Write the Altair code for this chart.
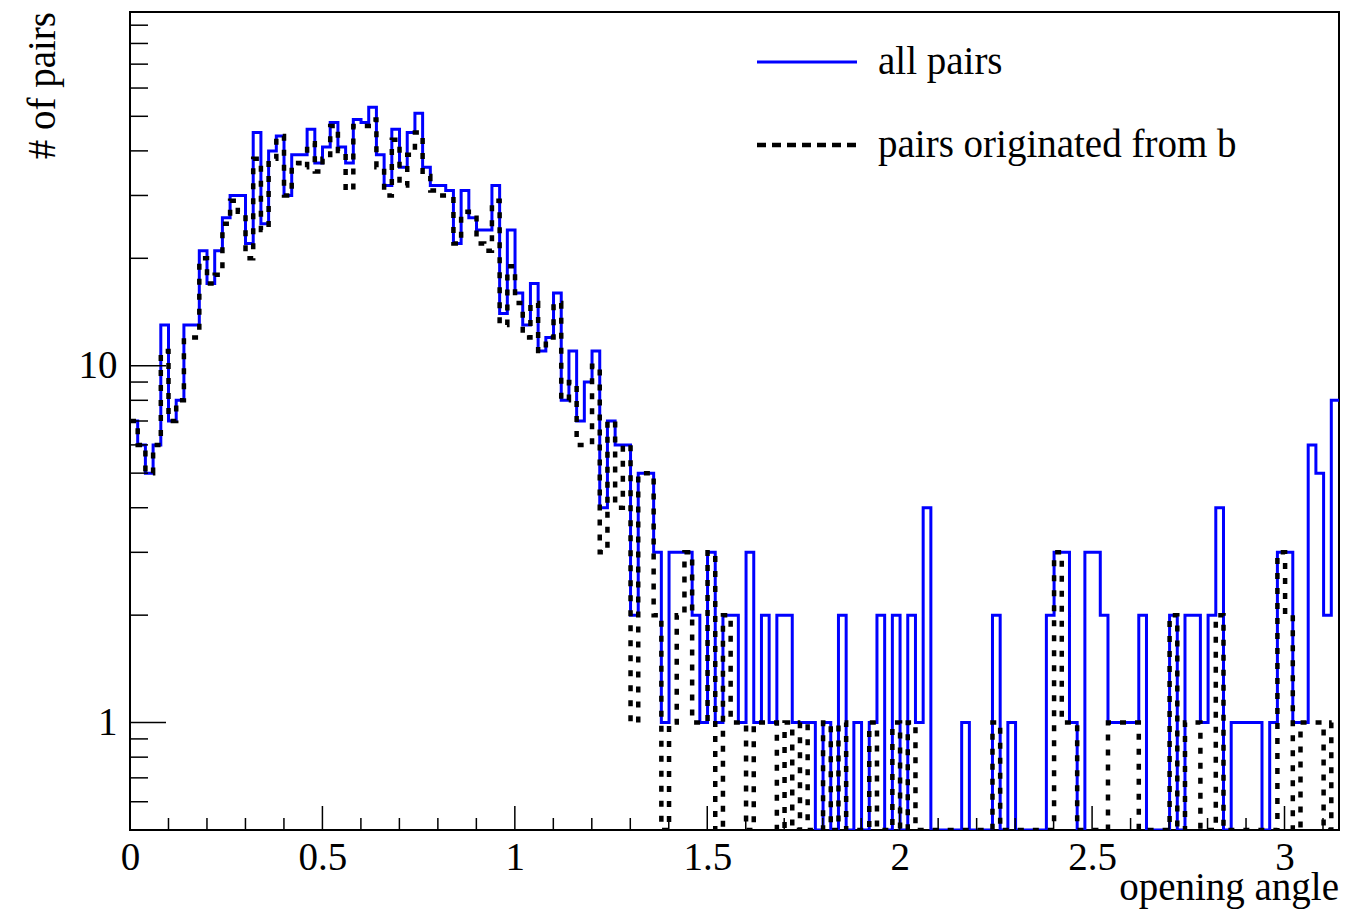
import altair as alt
import numpy as np
import pandas as pd

# ---- data (counts per bin, 157 bins of width pi/157 from 0 to pi) ----
all_pairs = [
    7, 6, 5, 6, 13, 7, 8, 13, 13, 21,
    17, 21, 26, 30, 30, 22, 45, 25, 40, 44,
    30, 39, 39, 46, 37, 41, 48, 41, 37, 49,
    48, 53, 39, 32, 46, 36, 45, 51, 36, 32,
    32, 31, 22, 31, 26, 24, 24, 32, 14, 24,
    16, 13, 17, 11, 12, 16, 8, 11, 7, 9,
    11, 4, 7, 6, 6, 2, 5, 5, 3, 1,
    3, 3, 3, 2, 1, 3, 1, 2, 2, 1,
    3, 1, 2, 1, 2, 2, 1, 1, 1, 0,
    1, 0, 2, 0, 1, 0, 1, 2, 0, 2,
    0, 2, 1, 4, 0, 0, 0, 0, 1, 0,
    0, 0, 2, 0, 1, 0, 0, 0, 0, 2,
    3, 3, 1, 0, 3, 3, 2, 1, 1, 1,
    1, 2, 0, 0, 0, 2, 0, 2, 2, 1,
    2, 4, 0, 1, 1, 1, 1, 0, 1, 3,
    3, 1, 1, 6, 5, 2, 8,
]
from_b = [
    7, 6, 5, 6, 11, 7, 8, 12, 12, 20,
    17, 18, 25, 29, 27, 20, 38, 24, 38, 44,
    30, 37, 36, 42, 35, 38, 47, 40, 31, 47,
    47, 49, 36, 30, 43, 32, 39, 45, 34, 31,
    30, 30, 22, 27, 26, 22, 21, 29, 13, 19,
    15, 12, 15, 11, 12, 15, 8, 9, 6, 6,
    10, 3, 7, 4, 6, 1, 5, 5, 2, 0,
    1, 2, 3, 1, 1, 3, 0, 2, 1, 1,
    0, 1, 1, 1, 0, 1, 0, 1, 0, 0,
    1, 0, 1, 0, 0, 0, 1, 0, 0, 1,
    0, 1, 0, 0, 0, 0, 0, 0, 0, 0,
    0, 0, 1, 0, 0, 0, 0, 0, 0, 0,
    3, 1, 1, 0, 0, 0, 0, 1, 1, 1,
    1, 0, 0, 0, 0, 2, 0, 1, 1, 0,
    0, 2, 0, 0, 0, 0, 0, 0, 0, 3,
    2, 0, 1, 1, 1, 0, 1,
]
x_major_ticks = [0, 0.5, 1, 1.5, 2, 2.5, 3]
x_minor_ticks = [0.1, 0.2, 0.3, 0.4, 0.6, 0.7, 0.8, 0.9, 1.1, 1.2, 1.3, 1.4,
                 1.6, 1.7, 1.8, 1.9, 2.1, 2.2, 2.3, 2.4, 2.6, 2.7, 2.8, 2.9,
                 3.1]
y_major_ticks = [1, 10]
y_minor_ticks = [0.6, 0.7, 0.8, 0.9, 2, 3, 4, 5, 6, 7, 8, 9,
                 20, 30, 40, 50, 60, 70, 80, 90]
legend_labels = ["all pairs", "pairs originated from b"]

X_MAX = np.pi
Y_MIN, Y_MAX = 0.5, 98
W, H = 1209, 818
FONT = "Liberation Serif"
FS = 39


def hist_frame(counts):
    n = len(counts)
    edges = np.linspace(0, X_MAX, n + 1)
    vals = list(counts) + [counts[-1]]
    return pd.DataFrame({"x": edges, "y": np.maximum(vals, Y_MIN)})


xs = alt.Scale(domain=[0, X_MAX], nice=False, zero=False)
ys = alt.Scale(type="log", domain=[Y_MIN, Y_MAX], nice=False, clamp=True)

x_axis = alt.Axis(values=x_major_ticks, format="~g", title=None, ticks=False,
                  tickSize=0, domain=False, grid=False, labelFont=FONT,
                  labelFontSize=FS, labelColor="black", labelPadding=8,
                  labelFlush=False, labelOverlap=False)
y_axis = alt.Axis(values=y_major_ticks, format="d", title=None, ticks=False,
                  tickSize=0, domain=False, grid=False, labelFont=FONT,
                  labelFontSize=FS, labelColor="black", labelPadding=13)

blue_line = alt.Chart(hist_frame(all_pairs)).mark_line(
    interpolate="step-after", color="#0000ff", strokeWidth=3, clip=True,
    strokeJoin="miter", strokeCap="butt"
).encode(x=alt.X("x:Q", scale=xs, axis=x_axis),
         y=alt.Y("y:Q", scale=ys, axis=y_axis))

black_line = alt.Chart(hist_frame(from_b)).mark_line(
    interpolate="step-after", color="black", strokeWidth=4.5, clip=True,
    strokeDash=[6, 9], strokeJoin="miter", strokeCap="butt"
).encode(x=alt.X("x:Q", scale=xs, axis=x_axis),
         y=alt.Y("y:Q", scale=ys, axis=y_axis))


def xticks(vals, length):
    return alt.Chart(pd.DataFrame({"v": vals})).mark_rule(
        color="black", strokeWidth=1.5
    ).encode(x=alt.X("v:Q", scale=xs, axis=x_axis),
             y=alt.value(H), y2=alt.value(H - length))


def yticks(vals, length):
    return alt.Chart(pd.DataFrame({"v": vals})).mark_rule(
        color="black", strokeWidth=1.5
    ).encode(y=alt.Y("v:Q", scale=ys, axis=y_axis),
             x=alt.value(0), x2=alt.value(length))


one = pd.DataFrame({"a": [0]})
leg_blue = alt.Chart(one).mark_rule(color="#0000ff", strokeWidth=3).encode(
    x=alt.value(627), x2=alt.value(727), y=alt.value(50))
leg_black = alt.Chart(one).mark_rule(
    color="black", strokeWidth=4.5, strokeDash=[9, 6]
).encode(x=alt.value(627), x2=alt.value(727), y=alt.value(133))
leg_t1 = alt.Chart(one).mark_text(
    text=legend_labels[0], font=FONT, fontSize=FS, align="left",
    baseline="middle", color="black"
).encode(x=alt.value(748), y=alt.value(50))
leg_t2 = alt.Chart(one).mark_text(
    text=legend_labels[1], font=FONT, fontSize=FS, align="left",
    baseline="middle", color="black"
).encode(x=alt.value(748), y=alt.value(133))

x_title = alt.Chart(one).mark_text(
    text="opening angle", font=FONT, fontSize=FS, align="right",
    baseline="alphabetic", color="black"
).encode(x=alt.value(W), y=alt.value(H + 70))
y_title = alt.Chart(one).mark_text(
    text="# of pairs", font=FONT, fontSize=FS, align="right",
    baseline="alphabetic", angle=270, color="black"
).encode(x=alt.value(-75), y=alt.value(0))

chart = alt.layer(
    blue_line, black_line,
    xticks(x_major_ticks, 24), xticks(x_minor_ticks, 12),
    yticks(y_major_ticks, 36), yticks(y_minor_ticks, 18),
    leg_blue, leg_black, leg_t1, leg_t2, x_title, y_title,
).properties(
    width=W, height=H,
    padding={"left": 130, "top": 12, "right": 8, "bottom": 81},
    autosize=alt.AutoSizeParams(type="none"),
    background="white",
).configure_view(stroke="black", strokeWidth=2)

chart.save("out.html", embed_options={"renderer": "svg", "actions": False})
